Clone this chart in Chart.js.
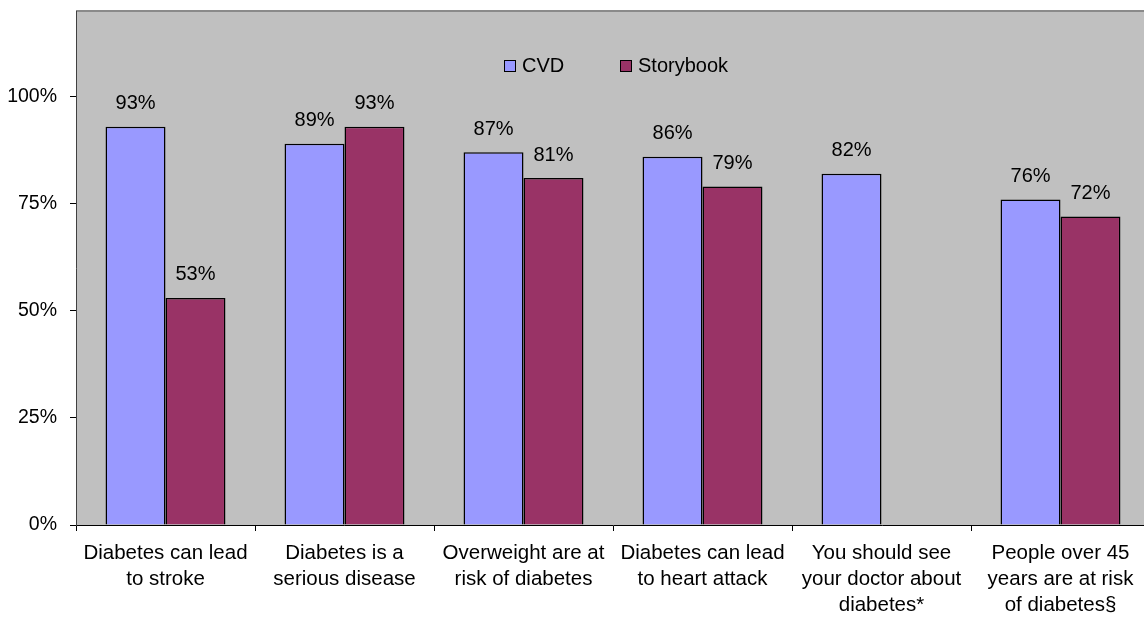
<!DOCTYPE html>
<html>
<head>
<meta charset="utf-8">
<script src="https://cdn.jsdelivr.net/npm/chart.js@4.4.0/dist/chart.umd.min.js"></script>
<style>
  html, body { margin: 0; padding: 0; background: #fff; overflow: hidden; }
  #chart { display: block; }
</style>
</head>
<body>
<canvas id="chart" width="1150" height="620"></canvas>
<script>
// Categories (statements), one entry per line of the axis label
var categories = [
  ['Diabetes can lead', 'to stroke'],
  ['Diabetes is a', 'serious disease'],
  ['Overweight are at', 'risk of diabetes'],
  ['Diabetes can lead', 'to heart attack'],
  ['You should see', 'your doctor about', 'diabetes*'],
  ['People over 45', 'years are at risk', 'of diabetes\u00a7']
];

// Percent agreeing, by group
var cvdValues = [93, 89, 87, 86, 82, 76];
var storybookValues = [53, 93, 81, 79, null, 72];

var seriesNames = ['CVD', 'Storybook'];
var seriesColors = ['#9999FF', '#993366'];

var yTicks = [0, 25, 50, 75, 100];

var FONT = '"Liberation Sans", Arial, sans-serif';

// grey plot area with a thin border along the top
var plotBackground = {
  id: 'plotBackground',
  beforeDraw: function(chart) {
    var a = chart.chartArea, ctx = chart.ctx;
    ctx.save();
    ctx.fillStyle = '#C0C0C0';
    ctx.fillRect(a.left, a.top, a.right - a.left, a.bottom - a.top);
    ctx.strokeStyle = '#8a8a8a';
    ctx.lineWidth = 2;
    ctx.beginPath();
    ctx.moveTo(a.left, a.top);
    ctx.lineTo(a.right, a.top);
    ctx.stroke();
    ctx.restore();
  }
};

// percent labels above every bar
var barLabels = {
  id: 'barLabels',
  afterDatasetsDraw: function(chart) {
    var ctx = chart.ctx;
    ctx.save();
    ctx.font = '20px ' + FONT;
    ctx.fillStyle = '#000';
    ctx.textAlign = 'center';
    ctx.textBaseline = 'middle';
    chart.data.datasets.forEach(function(ds, i) {
      chart.getDatasetMeta(i).data.forEach(function(bar, j) {
        var v = ds.data[j];
        if (v === null || v === undefined) return;
        ctx.fillText(Math.round(v) + '%', bar.x, bar.y - 23);
      });
    });
    ctx.restore();
  }
};

// legend sitting inside the plot, near the top
var innerLegend = {
  id: 'innerLegend',
  afterDraw: function(chart) {
    var ctx = chart.ctx;
    var boxX = [504, 620];
    ctx.save();
    ctx.font = '20px ' + FONT;
    ctx.textBaseline = 'middle';
    ctx.textAlign = 'left';
    chart.data.datasets.forEach(function(ds, i) {
      ctx.fillStyle = ds.backgroundColor;
      ctx.fillRect(boxX[i], 60, 12, 12);
      ctx.strokeStyle = '#000';
      ctx.lineWidth = 1;
      ctx.strokeRect(boxX[i] + 0.5, 60.5, 11, 11);
      ctx.fillStyle = '#000';
      ctx.fillText(ds.label, boxX[i] + 18, 66);
    });
    ctx.restore();
  }
};

new Chart(document.getElementById('chart'), {
  type: 'bar',
  data: {
    labels: categories,
    datasets: [
      {
        label: seriesNames[0],
        data: cvdValues,
        backgroundColor: seriesColors[0],
        borderColor: '#000',
        borderWidth: 1.5,
        categoryPercentage: 0.67,
        barPercentage: 1.0
      },
      {
        label: seriesNames[1],
        data: storybookValues,
        backgroundColor: seriesColors[1],
        borderColor: '#000',
        borderWidth: 1.5,
        categoryPercentage: 0.67,
        barPercentage: 1.0
      }
    ]
  },
  options: {
    responsive: false,
    animation: false,
    layout: { padding: { top: 11, right: 0, left: 0, bottom: 0 } },
    plugins: {
      legend: { display: false },
      tooltip: { enabled: false }
    },
    scales: {
      x: {
        grid: {
          offset: true,
          drawOnChartArea: false,
          drawTicks: true,
          tickLength: 6,
          color: '#000'
        },
        border: { display: true, color: '#000', width: 1 },
        ticks: {
          color: '#000',
          font: { family: FONT, size: 20.5, lineHeight: 1.27 },
          padding: 9,
          maxRotation: 0,
          autoSkip: false
        },
        afterFit: function(scale) { scale.height = 95; }
      },
      y: {
        min: 0,
        max: 120,
        afterBuildTicks: function(scale) {
          scale.ticks = yTicks.map(function(v) { return { value: v }; });
        },
        grid: {
          drawOnChartArea: false,
          drawTicks: true,
          tickLength: 6,
          color: '#000'
        },
        border: { display: true, color: '#404040', width: 1 },
        ticks: {
          color: '#000',
          font: { family: FONT, size: 19.5 },
          padding: 13,
          callback: function(v) { return v + '%'; }
        },
        afterFit: function(scale) {
          scale.width = 76;
          scale.paddingTop = 0;
          scale.paddingBottom = 0;
        }
      }
    }
  },
  plugins: [plotBackground, barLabels, innerLegend]
});
</script>
</body>
</html>
